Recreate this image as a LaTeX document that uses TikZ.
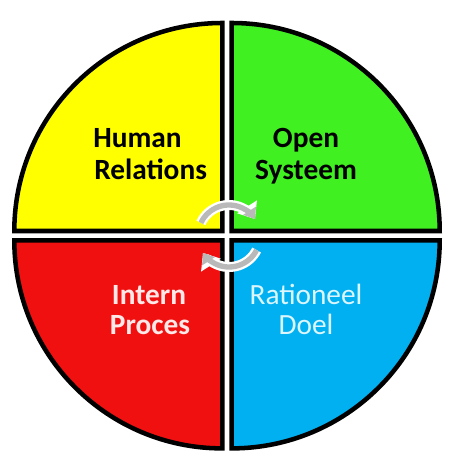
\documentclass[tikz,border=0pt]{standalone}
\usepackage{fontspec}
\setmainfont{Carlito}
\usetikzlibrary{arrows.meta,calc}
\definecolor{qyellow}{RGB}{255,255,0}
\definecolor{qgreen}{RGB}{64,240,32}
\definecolor{qred}{RGB}{240,16,16}
\definecolor{qblue}{RGB}{0,176,240}
\definecolor{arrgray}{RGB}{185,185,185}
\definecolor{redtext}{RGB}{255,232,232}
\definecolor{bluetext}{RGB}{220,246,255}
\begin{document}
\begin{tikzpicture}[x=0.75pt,y=0.75pt,
  quad/.style={draw=black,line width=3.4pt,line join=miter},
  lbl/.style={font=\fontsize{22}{26}\selectfont\bfseries,anchor=base,inner sep=0pt},
  lblw/.style={font=\fontsize{22}{26}\selectfont,anchor=base,inner sep=0pt},
  arrw/.style={white,line width=7.5pt,-{Triangle[width=17pt,length=11pt]}},
  arrg/.style={arrgray,line width=4pt,-{Triangle[width=11pt,length=7.5pt]}}]
\useasboundingbox (0,0) rectangle (456,463);
\def\R{208}
% quadrants (center 227,227.3 ; offset 4.75)
\draw[quad,fill=qyellow] (222.3,232) -- ++(-\R,0) arc[start angle=180,end angle=90,radius=\R] -- cycle;
\draw[quad,fill=qgreen] (231.7,232) -- ++(\R,0) arc[start angle=0,end angle=90,radius=\R] -- cycle;
\draw[quad,fill=qred] (222.3,222.6) -- ++(-\R,0) arc[start angle=180,end angle=270,radius=\R] -- cycle;
\draw[quad,fill=qblue] (231.7,222.6) -- ++(\R,0) arc[start angle=0,end angle=-90,radius=\R] -- cycle;
% labels
\node[lbl,anchor=base west] (hr1) at (93,315) {Human};
\node[lbl,anchor=base west] (hr2) at (94,283) {Relations};
\node[lbl] (os1) at (306,315) {Open};
\node[lbl] (os2) at (306,283) {Systeem};
\node[lbl,text=redtext] (ip1) at (149,158) {Intern};
\node[lbl,text=redtext] (ip2) at (150,128) {Proces};
\node[lblw,text=bluetext] (rd1) at (306,158) {Rationeel};
\node[lblw,text=bluetext] (rd2) at (306,128) {Doel};
% circular arrows
\coordinate (ac) at (229,227);
\draw[arrw] ($(ac)+(155:31)$) arc[start angle=155,end angle=33,radius=31];
\draw[arrg] ($(ac)+(155:31)$) arc[start angle=155,end angle=33,radius=31];
\draw[arrw] ($(ac)+(-27:31)$) arc[start angle=-27,end angle=-147,radius=31];
\draw[arrg] ($(ac)+(-27:31)$) arc[start angle=-27,end angle=-147,radius=31];
\end{tikzpicture}
\end{document}
